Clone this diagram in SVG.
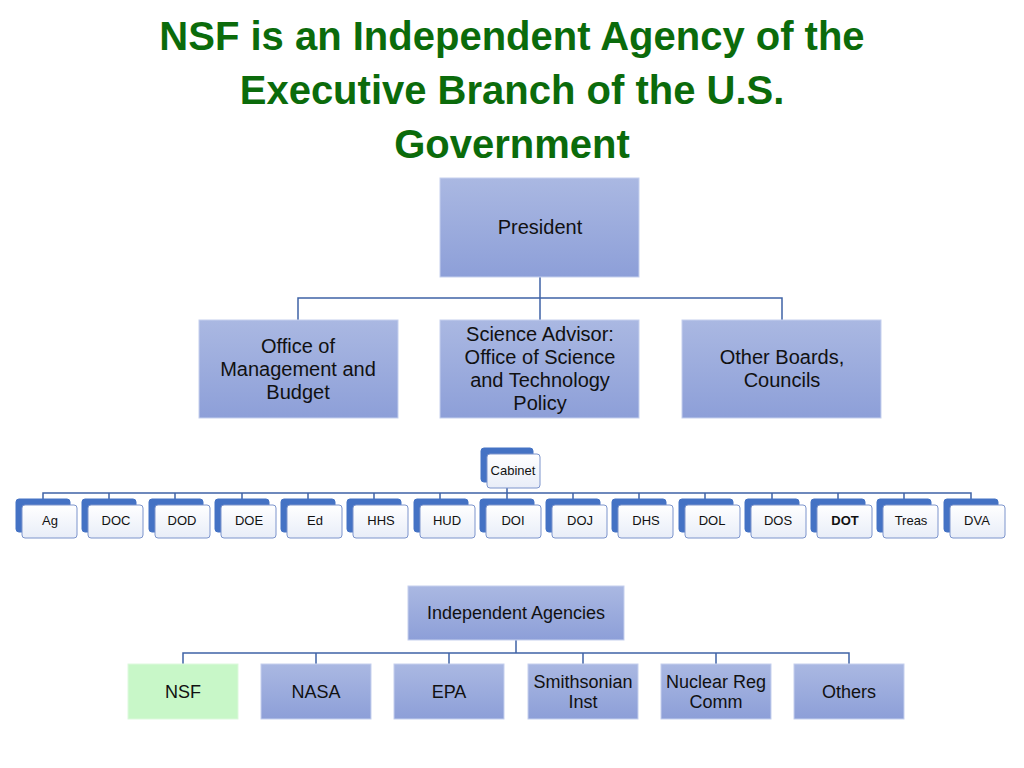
<svg xmlns="http://www.w3.org/2000/svg" width="1024" height="768" viewBox="0 0 1024 768">
<defs>
<linearGradient id="g" x1="0" y1="0" x2="0" y2="1"><stop offset="0" stop-color="#aab8e2"/><stop offset="1" stop-color="#8d9fd8"/></linearGradient>
<linearGradient id="w" x1="0" y1="0" x2="0" y2="1"><stop offset="0" stop-color="#ffffff"/><stop offset="1" stop-color="#e8edf8"/></linearGradient>
<style>
text{font-family:"Liberation Sans",Arial,sans-serif;fill:#111;text-anchor:middle}
.t{font-size:40px;font-weight:bold;fill:#0b6b0b}
.b{fill:url(#g);stroke:#c5d0ee;stroke-width:1}
.bk{fill:#4472c4;stroke:#4472c4}
.fr{fill:url(#w);stroke:#7c94cc;stroke-width:1}
.l{fill:none;stroke:#3f63a6;stroke-width:1.5}
.m{font-size:20px}
.s{font-size:13px}
</style>
</defs>
<text class="t" x="512" y="50">NSF is an Independent Agency of the</text>
<text class="t" x="512" y="104">Executive Branch of the U.S.</text>
<text class="t" x="512" y="158">Government</text>
<g id="connectors">
<path class="l" d="M540 277V298M298 320V298H782V320M540 298V320"/>
<path class="l" d="M507 487V493M43 500V493H971V500M109 493V500M175 493V500M242 493V500M308 493V500M374 493V500M440 493V500M507 493V500M573 493V500M639 493V500M705 493V500M772 493V500M838 493V500M904 493V500"/>
<path class="l" d="M516 640V653M183 664V653H849V664M316 653V664M449 653V664M583 653V664M716 653V664"/>
</g>
<g id="president"><rect class="b" x="440" y="178" width="199" height="99"/><text class="m" x="540" y="234">President</text></g>
<g id="omb"><rect class="b" x="199" y="320" width="199" height="98"/><text class="m" x="298" y="353">Office of</text><text class="m" x="298" y="376">Management and</text><text class="m" x="298" y="399">Budget</text></g>
<g id="ostp"><rect class="b" x="440" y="320" width="199" height="98"/><text class="m" x="540" y="341">Science Advisor:</text><text class="m" x="540" y="364">Office of Science</text><text class="m" x="540" y="387">and Technology</text><text class="m" x="540" y="410">Policy</text></g>
<g id="other"><rect class="b" x="682" y="320" width="199" height="98"/><text class="m" x="782" y="364">Other Boards,</text><text class="m" x="782" y="387">Councils</text></g>
<g id="cabinet"><rect class="bk" x="481" y="448" width="52" height="34" rx="3"/><rect class="fr" x="487" y="454" width="53" height="34" rx="3"/><text class="s" x="513" y="475">Cabinet</text></g>
<g id="dept-ag"><rect class="bk" x="16" y="499" width="54" height="33" rx="3"/><rect class="fr" x="22" y="505" width="55" height="33" rx="3"/><text class="s" x="50" y="525">Ag</text></g>
<g id="dept-doc"><rect class="bk" x="82" y="499" width="54" height="33" rx="3"/><rect class="fr" x="88" y="505" width="55" height="33" rx="3"/><text class="s" x="116" y="525">DOC</text></g>
<g id="dept-dod"><rect class="bk" x="149" y="499" width="54" height="33" rx="3"/><rect class="fr" x="155" y="505" width="55" height="33" rx="3"/><text class="s" x="182" y="525">DOD</text></g>
<g id="dept-doe"><rect class="bk" x="215" y="499" width="54" height="33" rx="3"/><rect class="fr" x="221" y="505" width="55" height="33" rx="3"/><text class="s" x="249" y="525">DOE</text></g>
<g id="dept-ed"><rect class="bk" x="281" y="499" width="54" height="33" rx="3"/><rect class="fr" x="287" y="505" width="55" height="33" rx="3"/><text class="s" x="315" y="525">Ed</text></g>
<g id="dept-hhs"><rect class="bk" x="347" y="499" width="54" height="33" rx="3"/><rect class="fr" x="353" y="505" width="55" height="33" rx="3"/><text class="s" x="381" y="525">HHS</text></g>
<g id="dept-hud"><rect class="bk" x="414" y="499" width="54" height="33" rx="3"/><rect class="fr" x="420" y="505" width="55" height="33" rx="3"/><text class="s" x="447" y="525">HUD</text></g>
<g id="dept-doi"><rect class="bk" x="480" y="499" width="54" height="33" rx="3"/><rect class="fr" x="486" y="505" width="55" height="33" rx="3"/><text class="s" x="513" y="525">DOI</text></g>
<g id="dept-doj"><rect class="bk" x="546" y="499" width="54" height="33" rx="3"/><rect class="fr" x="552" y="505" width="55" height="33" rx="3"/><text class="s" x="580" y="525">DOJ</text></g>
<g id="dept-dhs"><rect class="bk" x="612" y="499" width="54" height="33" rx="3"/><rect class="fr" x="618" y="505" width="55" height="33" rx="3"/><text class="s" x="646" y="525">DHS</text></g>
<g id="dept-dol"><rect class="bk" x="679" y="499" width="54" height="33" rx="3"/><rect class="fr" x="685" y="505" width="55" height="33" rx="3"/><text class="s" x="712" y="525">DOL</text></g>
<g id="dept-dos"><rect class="bk" x="745" y="499" width="54" height="33" rx="3"/><rect class="fr" x="751" y="505" width="55" height="33" rx="3"/><text class="s" x="778" y="525">DOS</text></g>
<g id="dept-dot"><rect class="bk" x="811" y="499" width="54" height="33" rx="3"/><rect class="fr" x="817" y="505" width="55" height="33" rx="3"/><text class="s" x="845" y="525" font-weight="bold">DOT</text></g>
<g id="dept-treas"><rect class="bk" x="877" y="499" width="54" height="33" rx="3"/><rect class="fr" x="883" y="505" width="55" height="33" rx="3"/><text class="s" x="911" y="525">Treas</text></g>
<g id="dept-dva"><rect class="bk" x="944" y="499" width="54" height="33" rx="3"/><rect class="fr" x="950" y="505" width="55" height="33" rx="3"/><text class="s" x="977" y="525">DVA</text></g>
<g id="independent"><rect class="b" x="408" y="586" width="216" height="54"/><text x="516" y="619" font-size="18">Independent Agencies</text></g>
<g id="nsf"><rect x="128" y="664" width="110" height="55" fill="#c8f7c8" stroke="#ddf9dd"/><text x="183" y="698" font-size="18">NSF</text></g>
<g id="nasa"><rect class="b" x="261" y="664" width="110" height="55"/><text x="316" y="698" font-size="18">NASA</text></g>
<g id="epa"><rect class="b" x="394" y="664" width="110" height="55"/><text x="449" y="698" font-size="18">EPA</text></g>
<g id="smithsonian"><rect class="b" x="528" y="664" width="110" height="55"/><text x="583" y="688" font-size="18">Smithsonian</text><text x="583" y="708" font-size="18">Inst</text></g>
<g id="nrc"><rect class="b" x="661" y="664" width="110" height="55"/><text x="716" y="688" font-size="18">Nuclear Reg</text><text x="716" y="708" font-size="18">Comm</text></g>
<g id="others"><rect class="b" x="794" y="664" width="110" height="55"/><text x="849" y="698" font-size="18">Others</text></g>
</svg>
